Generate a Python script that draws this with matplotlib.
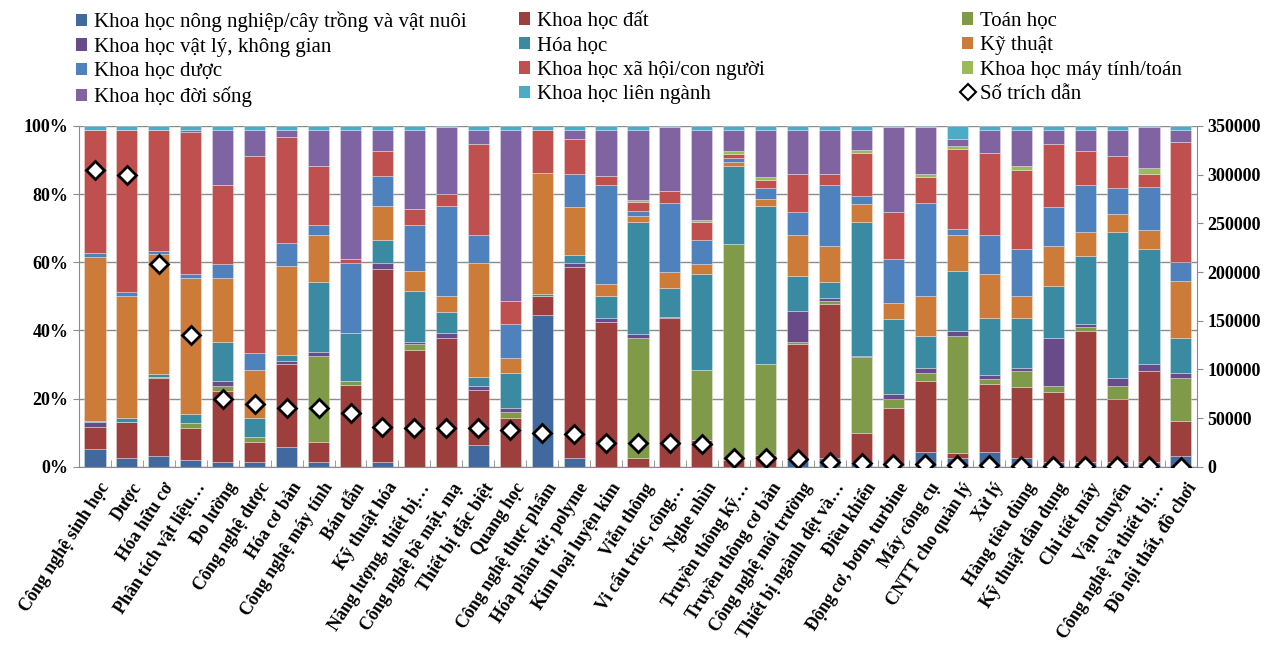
import numpy as np
import matplotlib
matplotlib.use('Agg')
import matplotlib.pyplot as plt
from matplotlib.patches import Patch
from matplotlib.lines import Line2D
from matplotlib.ticker import FuncFormatter, MultipleLocator
import matplotlib.transforms as mtransforms

categories = [
  'Công nghệ sinh học', 'Dược', 'Hóa hữu cơ', 'Phân tích vật liệu…', 'Đo lường',
  'Công nghệ dược', 'Hóa cơ bản', 'Công nghệ máy tính', 'Bán dẫn', 'Kỹ thuật hóa',
  'Năng lượng, thiết bị…', 'Công nghệ bề mặt, mạ', 'Thiết bị đặc biệt', 'Quang học',
  'Công nghệ thực phẩm', 'Hóa phân tử; polyme', 'Kim loại luyện kim', 'Viễn thông',
  'Vi cấu trúc, công…', 'Nghe nhìn', 'Truyền thông kỹ…', 'Truyền thông cơ bản',
  'Công nghệ môi trường', 'Thiết bị ngành dệt và…', 'Điều khiển', 'Động cơ, bơm, turbine',
  'Máy công cụ', 'CNTT cho quản lý', 'Xử lý', 'Hàng tiêu dùng', 'Kỹ thuật dân dụng',
  'Chi tiết máy', 'Vận chuyển', 'Công nghệ và thiết bị…', 'Đồ nội thất, đồ chơi',
]

# share of each field (%), bottom to top of each stack
nong_nghiep = [5.3, 2.5, 3.1, 2.0, 1.4, 1.4, 5.8, 1.4, 0, 1.4, 0, 0, 6.5, 0, 44.4, 2.5, 0, 0,
               0, 0, 0, 0, 2.0, 2.5, 1.6, 0.4, 4.3, 2.5, 4.3, 2.5, 1.4, 1.4, 1.4, 1.4, 3.2]
dat = [6.5, 10.8, 23.1, 9.3, 20.9, 6.0, 24.3, 6.0, 23.9, 56.6, 34.3, 37.9, 16.0, 14.5, 5.6, 56.0,
       42.4, 2.5, 43.8, 7.9, 2.1, 3.5, 34.0, 45.4, 8.5, 16.8, 21.0, 1.7, 19.9, 20.8, 20.5, 38.5,
       18.4, 26.6, 10.3]
toan = [0, 0, 0.3, 1.5, 1.5, 1.5, 0, 25.0, 1.4, 0, 1.7, 0, 0, 1.7, 0, 0, 0, 35.4, 0, 20.5, 63.2,
        26.6, 0.6, 0.8, 22.0, 2.6, 2.2, 34.2, 1.5, 4.7, 1.9, 1.0, 4.0, 0, 12.5]
vat_ly = [1.5, 0, 0, 0, 1.5, 0, 1.1, 1.4, 0, 1.9, 0.5, 1.5, 1.3, 1.2, 0, 1.4, 1.4, 1.0, 0.3, 0,
          0, 0, 9.2, 0.8, 0.5, 1.6, 1.4, 1.5, 1.2, 0.9, 14.1, 1.0, 2.2, 2.1, 1.5]
hoa = [0.2, 1.0, 0.8, 2.6, 11.2, 5.6, 1.6, 20.3, 14.1, 6.6, 15.2, 5.9, 2.5, 10.1, 0.7, 2.3, 6.2,
       33.0, 8.3, 28.1, 22.8, 46.4, 10.3, 4.6, 39.3, 21.9, 9.5, 17.6, 16.9, 14.9, 15.0, 20.0,
       43.0, 33.7, 10.4]
ky_thuat = [47.9, 35.7, 35.1, 40.1, 19.0, 13.9, 26.1, 13.9, 0, 10.1, 5.8, 4.7, 33.6, 4.4, 35.4,
            13.9, 3.6, 1.7, 4.6, 2.9, 1.4, 2.0, 11.9, 10.8, 5.1, 4.7, 11.7, 10.5, 12.8, 6.4, 12.0,
            7.1, 5.1, 5.7, 16.6]
duoc = [1.3, 1.4, 0.9, 1.0, 3.9, 4.9, 6.6, 3.0, 20.5, 8.8, 13.5, 26.5, 8.1, 10.0, 0, 9.9, 29.0,
        1.5, 20.5, 7.1, 1.0, 3.2, 6.7, 17.6, 2.5, 13.0, 27.4, 1.7, 11.4, 13.6, 11.2, 13.5, 7.6,
        12.5, 5.5]
xa_hoi = [36.1, 47.4, 35.5, 41.6, 23.1, 57.7, 31.2, 17.1, 1.1, 7.1, 4.6, 3.5, 26.6, 6.6, 12.8,
          10.2, 2.8, 2.5, 3.5, 5.4, 1.3, 2.3, 11.2, 3.4, 12.5, 13.7, 7.4, 23.5, 24.0, 23.1, 18.5,
          10.0, 9.3, 3.9, 35.1]
may_tinh = [0, 0, 0, 0, 0, 0, 0, 0, 0, 0, 0, 0, 0, 0, 0, 0, 0, 0.5, 0, 0.5, 0.9, 0.9, 0, 0, 1.0,
            0, 1.0, 0.9, 0, 1.2, 0, 0, 0, 1.7, 0]
doi_song = [0, 0, 0, 0.8, 16.4, 7.9, 2.2, 10.8, 37.9, 6.4, 23.3, 19.5, 4.3, 50.4, 0, 2.7, 13.5,
            20.8, 18.5, 26.5, 6.2, 14.0, 13.0, 13.0, 5.9, 24.8, 13.6, 2.1, 6.9, 10.8, 4.3, 6.4,
            7.9, 11.9, 3.8]
lien_nganh = [1.2, 1.2, 1.2, 1.1, 1.1, 1.1, 1.1, 1.1, 1.1, 1.1, 1.1, 0.5, 1.1, 1.1, 1.1, 1.1,
              1.1, 1.1, 0.5, 1.1, 1.1, 1.1, 1.1, 1.1, 1.1, 0.5, 0.5, 3.8, 1.1, 1.1, 1.1, 1.1,
              1.1, 0.5, 1.1]

so_trich_dan = [305000, 300000, 208000, 135000, 70000, 65000, 61000, 61000, 55000, 41000,
                40000, 39500, 39500, 38000, 34500, 34000, 25000, 25000, 25000, 23500, 9000,
                9000, 8000, 5000, 4500, 3500, 3000, 2500, 2000, 1500, 1200, 1000, 800, 600, 400]

series = [
  ('Khoa học nông nghiệp/cây trồng và vật nuôi', nong_nghiep, '#41699D'),
  ('Khoa học đất', dat, '#9D3F3D'),
  ('Toán học', toan, '#7F9A48'),
  ('Khoa học vật lý, không gian', vat_ly, '#684C8A'),
  ('Hóa học', hoa, '#3A8AA2'),
  ('Kỹ thuật', ky_thuat, '#CC7B38'),
  ('Khoa học dược', duoc, '#4F81BD'),
  ('Khoa học xã hội/con người', xa_hoi, '#C0504D'),
  ('Khoa học máy tính/toán', may_tinh, '#9BBB59'),
  ('Khoa học đời sống', doi_song, '#8064A2'),
  ('Khoa học liên ngành', lien_nganh, '#4BACC6'),
]

FONT = ['Liberation Serif', 'DejaVu Serif']


def plot(output):
  plt.rcParams['font.family'] = FONT
  fig = plt.figure(figsize=(12.79, 6.45), dpi=100)
  ax = fig.add_axes([0.0618, 0.276, 0.874, 0.529])

  x = np.arange(len(categories))
  data = np.array([s[1] for s in series], dtype=float)
  data = data / data.sum(axis=0) * 100

  bottom = np.zeros(len(categories))
  handles = []
  for (name, _, color), vals in zip(series, data):
    ax.bar(x, vals, 0.66, bottom=bottom, color=color, edgecolor=(1, 1, 1, 0.35),
           linewidth=0.6, zorder=2)
    bottom += vals
    handles.append(Patch(facecolor=color, label=name))

  ax.set_xlim(-0.5, len(categories) - 0.5)
  ax.set_ylim(0, 100)
  ax.yaxis.set_major_locator(MultipleLocator(20))
  ax.yaxis.set_major_formatter(FuncFormatter(lambda v, p: '%d%%' % v))
  ax.grid(axis='y', color='#8c8c8c', linewidth=1, zorder=0)
  ax.set_axisbelow(True)
  for s in ['top', 'right']:
    ax.spines[s].set_visible(False)
  for s in ['left', 'bottom']:
    ax.spines[s].set_color('#8c8c8c')

  ax.set_xticks(x)
  ax.set_xticklabels(categories, rotation=57, ha='right', va='top',
                     rotation_mode='anchor', fontsize=13, fontweight='bold')
  ax.tick_params(axis='x', length=0, pad=9)
  shift = mtransforms.ScaledTranslation(4 / 100, 0, fig.dpi_scale_trans)
  for t in ax.get_xticklabels():
    t.set_transform(t.get_transform() + shift)
  ax.set_xticks(np.arange(len(categories) + 1) - 0.5, minor=True)
  ax.tick_params(axis='x', which='minor', length=5, direction='in', color='#8c8c8c')
  ax.tick_params(axis='y', length=4, color='#8c8c8c', labelsize=13)
  for t in ax.get_yticklabels():
    t.set_fontweight('bold')

  ax2 = ax.twinx()
  ax2.set_ylim(0, 350000)
  ax2.yaxis.set_major_locator(MultipleLocator(50000))
  ax2.yaxis.set_major_formatter(FuncFormatter(lambda v, p: '%d' % v))
  ax2.tick_params(axis='y', length=4, color='#8c8c8c', labelsize=13)
  for t in ax2.get_yticklabels():
    t.set_fontweight('bold')
  for s in ['top', 'left', 'bottom']:
    ax2.spines[s].set_visible(False)
  ax2.spines['right'].set_color('#8c8c8c')
  ax2.plot(x, so_trich_dan, linestyle='none', marker='D', markersize=9,
           markerfacecolor='white', markeredgecolor='black', markeredgewidth=2, zorder=5)

  cit = Line2D([], [], linestyle='none', marker='D', markersize=8, markerfacecolor='white',
               markeredgecolor='black', markeredgewidth=1.5, label='Số trích dẫn')
  columns = [
    [handles[0], handles[3], handles[6], handles[9]],
    [handles[1], handles[4], handles[7], handles[10]],
    [handles[2], handles[5], handles[8], cit],
  ]
  for i, col in enumerate(columns):
    fig.legend(handles=col, loc='upper left', bbox_to_anchor=((76 + i * 443) / 1279, 1 - 12 / 645),
               frameon=False, fontsize=15, handlelength=0.55, handleheight=0.55,
               handletextpad=0.3, labelspacing=0.26, borderaxespad=0, borderpad=0)

  fig.savefig(output, dpi=100)


if __name__ == '__main__':
  plot('out.png')
